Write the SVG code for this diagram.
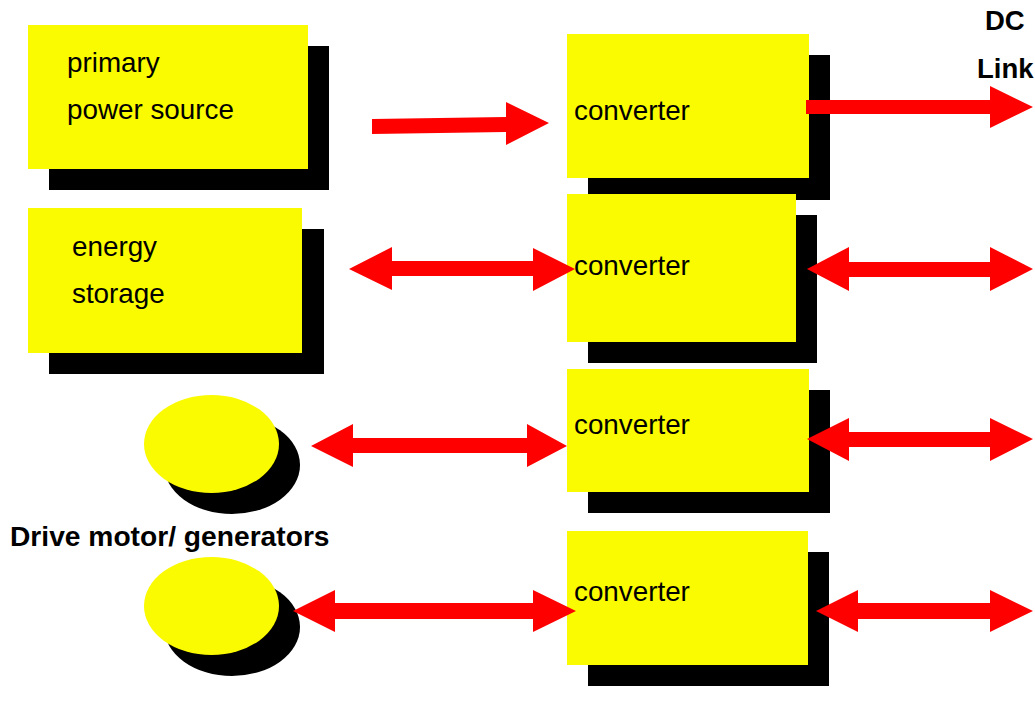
<svg xmlns="http://www.w3.org/2000/svg" width="1035" height="716" viewBox="0 0 1035 716">
<style>
.box{fill:#fafa00}
.sh{fill:#000}
.arr{fill:#ff0000}
.t{font-family:"Liberation Sans",Arial,sans-serif;font-size:27.8px;fill:#000}
.b{font-family:"Liberation Sans",Arial,sans-serif;font-size:27.5px;font-weight:bold;fill:#000}
</style>
<rect width="1035" height="716" fill="#fff"/>
<g id="primary-source">
<rect class="sh" x="49" y="46" width="280" height="144"/>
<rect class="box" x="28" y="25" width="280" height="144"/>
<text class="t" x="67" y="72">primary</text>
<text class="t" x="67" y="119">power source</text>
</g>
<g id="energy-storage">
<rect class="sh" x="49" y="229" width="275" height="145"/>
<rect class="box" x="28" y="208" width="274" height="145"/>
<text class="t" x="72" y="256">energy</text>
<text class="t" x="72" y="303">storage</text>
</g>
<g id="motor1">
<ellipse class="sh" cx="232" cy="465" rx="68" ry="49"/>
<ellipse class="box" cx="211.5" cy="444" rx="67.5" ry="49"/>
</g>
<g id="motor2">
<ellipse class="sh" cx="232" cy="627" rx="68" ry="49"/>
<ellipse class="box" cx="211.5" cy="606" rx="67.5" ry="49"/>
</g>
<text id="motor-label" class="b" x="10" y="546" style="font-size:28.2px">Drive motor/ generators</text>
<g id="converter1">
<rect class="sh" x="588" y="55" width="242" height="145"/>
<rect class="box" x="567" y="34" width="242" height="144"/>
<text class="t" x="574" y="120">converter</text>
</g>
<g id="converter2">
<rect class="sh" x="588" y="215" width="229" height="148"/>
<rect class="box" x="567" y="194" width="229" height="148"/>
<text class="t" x="574" y="275">converter</text>
</g>
<g id="converter3">
<rect class="sh" x="588" y="390" width="242" height="123"/>
<rect class="box" x="567" y="369" width="242" height="123"/>
<text class="t" x="574" y="434">converter</text>
</g>
<g id="converter4">
<rect class="sh" x="588" y="552" width="241" height="134"/>
<rect class="box" x="567" y="531" width="241" height="134"/>
<text class="t" x="574" y="601">converter</text>
</g>
<g id="dc-link-label">
<text class="b" x="985" y="30">DC</text>
<text class="b" x="977" y="78">Link</text>
</g>
<g id="connectors">
<polygon class="arr" points="372,119 506,117 506,102 549,123 506,145 506,132 372,134"/>
<polygon class="arr" points="806,100 990,100 990,86 1033,107 990,128 990,114 806,114"/>
<polygon class="arr" points="349,269 392,247 392,261 533,261 533,248 575,269 533,291 533,276 392,276 392,290"/>
<polygon class="arr" points="807,269 849,247 849,262 990,262 990,247 1033,269 990,291 990,277 849,277 849,291"/>
<polygon class="arr" points="311,446 353,424 353,438 527,438 527,424 567,446 527,467 527,453 353,453 353,467"/>
<polygon class="arr" points="807,439 849,418 849,432 990,432 990,418 1033,439 990,461 990,447 849,447 849,461"/>
<polygon class="arr" points="293,611 335,590 335,603 533,603 533,590 576,611 533,632 533,619 335,619 335,632"/>
<polygon class="arr" points="816,611 858,590 858,603 990,603 990,590 1033,611 990,632 990,619 858,619 858,632"/>
</g>
</svg>
